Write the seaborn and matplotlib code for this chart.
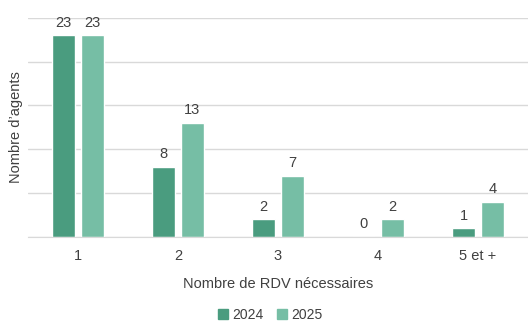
import numpy as np
import pandas as pd
import matplotlib.pyplot as plt
import seaborn as sns
from matplotlib.patches import Patch

categories = ["1", "2", "3", "4", "5 et +"]
years = ["2024", "2025"]
values_2024 = [23, 8, 2, 0, 1]
values_2025 = [23, 13, 7, 2, 4]
colors = ["#4a9c7f", "#76bea5"]

df = pd.DataFrame({
    "cat": categories * 2,
    "year": [years[0]] * 5 + [years[1]] * 5,
    "val": values_2024 + values_2025,
})

sns.set_style("white")
plt.rcParams["font.family"] = ["Liberation Sans", "DejaVu Sans"]
txt = "#404040"

fig = plt.figure(figsize=(5.28, 3.25), dpi=100)
ax = fig.add_axes([0.053, 0.271, 0.947, 0.674])

sns.barplot(data=df, x="cat", y="val", hue="year", palette=colors,
            width=0.58, gap=0.2, ax=ax, legend=False, saturation=1)

for c in ax.containers:
    ax.bar_label(c, padding=4, fontsize=10.5, color=txt)

ax.set_ylim(0, 25)
ax.set_yticks(np.arange(0, 26, 5))
ax.set_yticklabels([])
ax.tick_params(axis="y", length=0)
ax.grid(axis="y", color="#d9d9d9", linewidth=1)
ax.set_axisbelow(True)
ax.set_xlim(-0.5, 4.5)

ax.set_xticks(np.arange(-0.5, 5, 1), minor=True)
ax.tick_params(axis="x", which="minor", length=5, color="#d9d9d9", width=1)
ax.tick_params(axis="x", which="major", length=0, labelsize=10.5, labelcolor=txt, pad=9)

for s in ["top", "right", "left"]:
    ax.spines[s].set_visible(False)
ax.spines["bottom"].set_color("#d9d9d9")

ax.set_xlabel("Nombre de RDV nécessaires", fontsize=10.5, color=txt, labelpad=10)
ax.set_ylabel("Nombre d\u2019agents", fontsize=10.5, color=txt)
ax.yaxis.set_label_coords(-0.01, 0.5)

handles = [Patch(color=colors[i], label=years[i]) for i in range(2)]
fig.legend(handles=handles, loc="lower center", bbox_to_anchor=(0.512, -0.028), ncol=2,
           frameon=False, fontsize=10, handlelength=0.7, handleheight=0.7,
           handletextpad=0.3, columnspacing=1.0, labelcolor=txt)

fig.savefig("out.png", dpi=100)
